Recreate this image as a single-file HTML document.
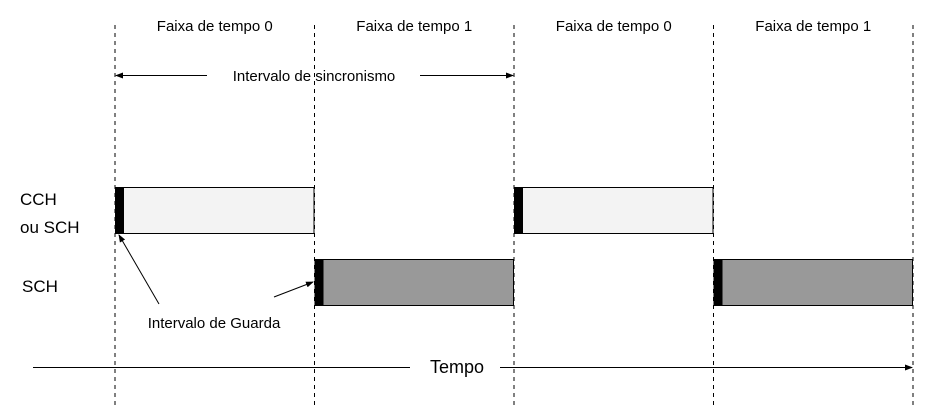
<!DOCTYPE html>
<html><head><meta charset="utf-8"><style>
html,body{margin:0;padding:0;background:#fff;}
svg{display:block;font-family:"Liberation Sans",Arial,sans-serif;}
</style></head><body>
<svg id="c" width="929" height="413" viewBox="0 0 929 413">
<defs><marker id="ah" markerWidth="8" markerHeight="6" refX="7" refY="3" orient="auto"><path d="M0,0 L8,3 L0,6 z" fill="#000"/></marker></defs>
</svg>
<script>
const boundaries = [0, 1, 2, 3, 4];
const slotLabels = ["Faixa de tempo 0", "Faixa de tempo 1", "Faixa de tempo 0", "Faixa de tempo 1"];
const cchSlots = [0, 2];
const schSlots = [1, 3];
const x0 = 115, slotW = 199.5;
const X = i => x0 + i * slotW;
const svg = document.getElementById('c');
const NS = 'http://www.w3.org/2000/svg';
function mk(tag, attrs, parent) {
  const e = document.createElementNS(NS, tag);
  for (const k in attrs) e.setAttribute(k, attrs[k]);
  (parent || svg).appendChild(e);
  return e;
}
boundaries.forEach(b => {
  const l = mk('line', {x1: X(b), x2: X(b), y1: 25, y2: 406, stroke: '#000', 'stroke-width': 1, 'stroke-dasharray': '4,4'});
  
  
});
slotLabels.forEach((s, i) => {
  const t = mk('text', {x: X(i) + slotW / 2, y: 31, 'text-anchor': 'middle', 'font-size': 15, fill: '#000'});
  t.textContent = s;
  
  
});
function bar(i, y, fill, name) {
  const g = mk('g', {});
  
  
  mk('rect', {x: X(i) + 0.5, y: y, width: slotW - 1, height: 46, fill: fill, stroke: '#000', 'stroke-width': 1}, g);
  mk('rect', {x: X(i), y: y, width: 9, height: 46.5, fill: '#000'}, g);
}
cchSlots.forEach(i => bar(i, 187.5, '#f3f3f3', 'cch-slot-bar'));
schSlots.forEach(i => bar(i, 259.5, '#999999', 'sch-slot-bar'));
</script>
<svg width="0" height="0" style="position:absolute"></svg>
<script>
(function(){
const svg = document.getElementById('c');
svg.insertAdjacentHTML('beforeend', `
<g>
<line x1="207" y1="75.5" x2="116" y2="75.5" stroke="#000" marker-end="url(#ah)"/>
<line x1="420" y1="75.5" x2="513" y2="75.5" stroke="#000" marker-end="url(#ah)"/>
<text x="314" y="81" text-anchor="middle" font-size="15">Intervalo de sincronismo</text>
</g>
<text x="20" y="205" font-size="17">CCH</text>
<text x="20" y="233" font-size="17">ou SCH</text>
<text x="22" y="292" font-size="17">SCH</text>
<g>
<line x1="159" y1="304" x2="119" y2="235" stroke="#000" marker-end="url(#ah)"/>
<line x1="274" y1="297" x2="313" y2="282" stroke="#000" marker-end="url(#ah)"/>
<text x="214" y="328" text-anchor="middle" font-size="15">Intervalo de Guarda</text>
</g>
<g>
<line x1="33" y1="367.5" x2="410" y2="367.5" stroke="#000"/>
<line x1="500" y1="367.5" x2="912" y2="367.5" stroke="#000" marker-end="url(#ah)"/>
<text x="457" y="373" text-anchor="middle" font-size="18">Tempo</text>
</g>`);
})();
</script>
</body></html>
